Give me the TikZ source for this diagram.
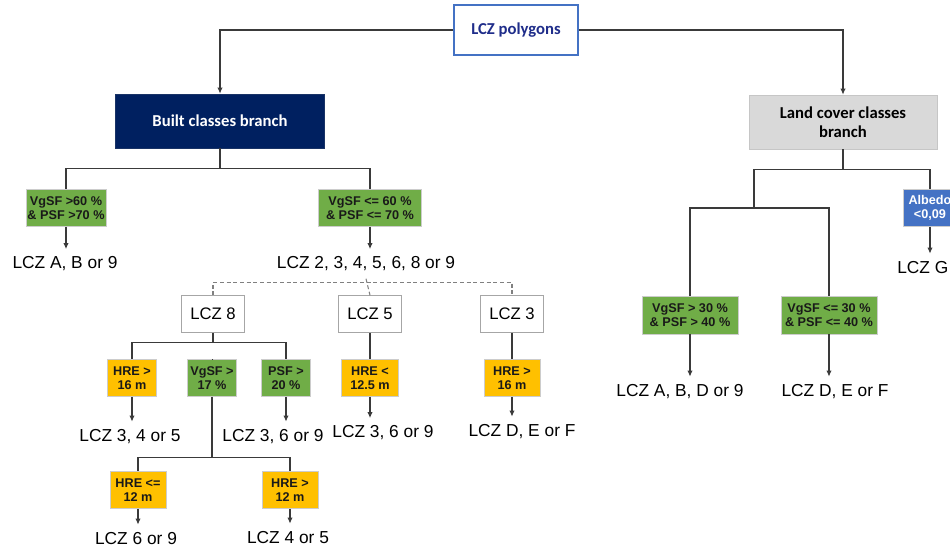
\documentclass[tikz,border=0pt]{standalone}
\usepackage{fontspec}
\setmainfont{Liberation Sans}
\newfontfamily\calfont{Carlito}
\usepackage{tikz}
\usetikzlibrary{arrows.meta,calc}

\definecolor{navybox}{HTML}{002060}
\definecolor{lcgreen}{HTML}{70AD47}
\definecolor{lcyellow}{HTML}{FFC000}
\definecolor{lcblue}{HTML}{4472C4}
\definecolor{lcgray}{HTML}{D9D9D9}
\definecolor{polytext}{HTML}{1F2D8A}
\definecolor{linegray}{HTML}{3A3A3A}

\tikzset{
  box/.style={draw, inner sep=1pt, align=center},
  topbox/.style={box, draw=lcblue, line width=1.4pt, fill=white, text=polytext,
    font=\calfont\bfseries\fontsize{12.5}{14}\selectfont, minimum width=93pt, minimum height=37.5pt},
  builtbox/.style={box, draw=navybox!80!gray, fill=navybox, text=white,
    font=\calfont\bfseries\fontsize{12.5}{14}\selectfont, minimum width=156.75pt, minimum height=40.5pt},
  landbox/.style={box, draw=gray!45, fill=lcgray, text=black,
    font=\calfont\bfseries\fontsize{12.5}{14}\selectfont, minimum width=141pt, minimum height=40.5pt},
  rulebox/.style={box, font=\bfseries\fontsize{9.5}{10.5}\selectfont, minimum height=27.75pt},
  greenbox/.style={rulebox, draw=gray!40, fill=lcgreen, text=black!90},
  yellowbox/.style={rulebox, draw=gray!40, fill=lcyellow, text=black!90},
  albedobox/.style={rulebox, draw=gray!40, fill=lcblue, text=white},
  classbox/.style={box, draw=gray!70, fill=white, font=\fontsize{12.5}{14}\selectfont,
    minimum width=47.25pt, minimum height=27.75pt},
  lczlabel/.style={anchor=base, inner xsep=0pt, inner ysep=5pt, text height=9.3pt, text depth=2.5pt,
    font=\fontsize{13}{15}\selectfont},
  branch/.style={draw=linegray, line width=0.9pt},
  link/.style={branch, -{Latex[length=4.5pt,width=4pt]}},
  dline/.style={draw=gray, line width=0.8pt, dash pattern=on 3pt off 2pt}
}

\begin{document}
\begin{tikzpicture}[x=0.75pt,y=0.75pt,yscale=-1,xscale=1]
\fill[white] (0,0) rectangle (950,550);
\useasboundingbox (0,0) rectangle (950,550);
\clip (0,0) rectangle (950,550);

% Top
\node[topbox] (poly) at (516,30) {LCZ polygons};
\node[builtbox] (built) at (220,121) {Built classes branch};
\node[landbox] (land) at (843,122) {Land cover classes\\branch};

% Built classes branch
\node[greenbox, minimum width=57pt] (gvhigh) at (66,208) {VgSF >60 \%\\\& PSF >70 \%};
\node[greenbox, minimum width=77.25pt] (gvlow) at (370,208) {VgSF <= 60 \%\\\& PSF <= 70 \%};
\node[lczlabel] (rabn) at (65,268.5) {LCZ A, B or 9};
\node[lczlabel] (rall) at (366,268.5) {LCZ 2, 3, 4, 5, 6, 8 or 9};

\node[classbox] (lczeight) at (213,314) {LCZ 8};
\node[classbox] (lczfive) at (370,314) {LCZ 5};
\node[classbox] (lczthree) at (512,314) {LCZ 3};

\node[yellowbox, minimum width=36.75pt] (hresixteen) at (132,378) {HRE >\\16 m};
\node[greenbox, minimum width=36.75pt] (vgseventeen) at (212,378) {VgSF >\\17 \%};
\node[greenbox, minimum width=36.75pt] (psftwenty) at (286,378) {PSF >\\20 \%};
\node[yellowbox, minimum width=42.75pt] (hretwelvefive) at (370,378) {HRE <\\12.5 m};
\node[yellowbox, minimum width=42pt] (hrethree) at (512,378) {HRE >\\16 m};

\node[lczlabel] (rthreefour) at (130,441) {LCZ 3, 4 or 5};
\node[lczlabel] (rthreesix) at (273,441) {LCZ 3, 6 or 9};
\node[lczlabel] (rfivesix) at (383,437.5) {LCZ 3, 6 or 9};
\node[lczlabel] (rdef) at (522,436) {LCZ D, E or F};

\node[yellowbox, minimum width=42pt] (hrelow) at (138,490) {HRE <=\\12 m};
\node[yellowbox, minimum width=42pt] (hrehigh) at (290,490) {HRE >\\12 m};
\node[lczlabel] (rsixnine) at (136,544) {LCZ 6 or 9};
\node[lczlabel] (rfourfive) at (288,543) {LCZ 4 or 5};

% Land cover classes branch
\node[greenbox, minimum width=72pt, minimum height=28.5pt] (lvhigh) at (690,315) {VgSF > 30 \%\\\& PSF > 40 \%};
\node[greenbox, minimum width=72pt, minimum height=28.5pt] (lvlow) at (829,315) {VgSF <= 30 \%\\\& PSF <= 40 \%};
\node[albedobox, minimum width=40.5pt] (albedo) at (930,208) {Albedo\\<0,09};
\node[lczlabel] (rabdn) at (680,396) {LCZ A, B, D or 9};
\node[lczlabel] (rdefland) at (835,396) {LCZ D, E or F};
\node[lczlabel, anchor=base west] (rg) at (897,273) {LCZ G};
\coordinate (lsplit) at (754,208);

% Connectors
\draw[link] (poly.west) -| (built.north);
\draw[link] (poly.east) -| (land.north);

\draw[branch] (built.south) -- ++(0,20) -| (gvhigh.north);
\draw[branch] (built.south) -- ++(0,20) -| (gvlow.north);
\draw[link] (gvhigh.south) -- (gvhigh.south |- rabn.north);
\draw[link] (gvlow.south) -- (gvlow.south |- rall.north);

\draw[dline] (rall.south) -- (lczfive.north);
\draw[dline] (lczeight.north) -- ++(0,-13) -| (lczthree.north);

\draw[branch] (lczeight.south) -- ++(0,10) -| (hresixteen.north);
\draw[branch] (lczeight.south) -- ++(0,10) -| (psftwenty.north);
\draw[branch] (lczeight.south |- hresixteen.north) -- (vgseventeen.north);
\draw[branch] (lczfive) -- (hretwelvefive);
\draw[branch] (lczthree) -- (hrethree);

\draw[link] (hresixteen.south) -- (hresixteen.south |- rthreefour.north);
\draw[link] (psftwenty.south) -- (psftwenty.south |- rthreesix.north);
\draw[link] (hretwelvefive.south) -- (hretwelvefive.south |- rfivesix.north);
\draw[link] (hrethree.south) -- (hrethree.south |- rdef.north);

\draw[branch] (vgseventeen.south) -- ++(0,61) -| (hrelow.north);
\draw[branch] (vgseventeen.south) -- ++(0,61) -| (hrehigh.north);
\draw[link] (hrelow.south) -- (hrelow.south |- rsixnine.north);
\draw[link] (hrehigh.south) -- (hrehigh.south |- rfourfive.north);

\draw[branch] (land.south) -- ++(0,20) -| (albedo.north);
\draw[branch] (land.south) -- ++(0,20) -| (lsplit);
\draw[branch] (lvhigh.north) |- (lsplit) -| (lvlow.north);
\draw[link] (lvhigh.south) -- (lvhigh.south |- rabdn.north);
\draw[link] (lvlow.south) -- (lvlow.south |- rdefland.north);
\draw[link] (albedo.south) -- (albedo.south |- rg.north);
\end{tikzpicture}
\end{document}
